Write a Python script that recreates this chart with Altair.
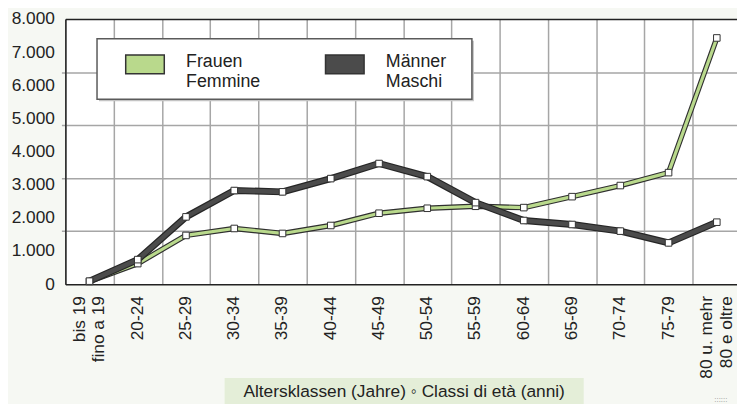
import altair as alt
import pandas as pd

# ---- data ----
age_classes = ["bis 19|fino a 19", "20-24", "25-29", "30-34", "35-39", "40-44", "45-49",
               "50-54", "55-59", "60-64", "65-69", "70-74", "75-79", "80 u. mehr|80 e oltre"]
frauen = [80, 620, 1470, 1680, 1530, 1770, 2140, 2290, 2350, 2310, 2640, 2975, 3365, 7430]
maenner = [90, 740, 2030, 2825, 2785, 3185, 3640, 3245, 2460, 1920, 1800, 1600, 1245, 1870]
series_names = ["Frauen|Femmine", "Männer|Maschi"]
y_label_values = [0, 1000, 2000, 3000, 4000, 5000, 6000, 7000, 8000]
grid_values = [1600, 3200, 4800, 6400]
title_text = "Altersklassen (Jahre) \u25e6 Classi di età (anni)"
dots_text = "::::::"

FONT = "Liberation Sans"
GREEN = "#b9d98c"
DARK = "#4b4b4b"
GRID = "#a6a6a6"
INK = "#222222"

rows = []
for i, a in enumerate(age_classes):
    rows.append({"age": a, "series": series_names[0], "value": frauen[i]})
    rows.append({"age": a, "series": series_names[1], "value": maenner[i]})
df = pd.DataFrame(rows)
one = pd.DataFrame({"k": [0]})

# tick-label lines (category key, line text, kind: single / first / second)
lab_rows = []
for a in age_classes:
    parts = a.split("|")
    if len(parts) == 1:
        lab_rows.append({"age": a, "line": parts[0], "kind": "single"})
    else:
        lab_rows.append({"age": a, "line": parts[0], "kind": "first"})
        lab_rows.append({"age": a, "line": parts[1], "kind": "second"})
labels_df = pd.DataFrame(lab_rows)

xs = alt.Scale(type="band", paddingInner=0, paddingOuter=0, range=[0, 683])
ys = alt.Scale(domain=[0, 8000], nice=False, zero=True)


def X(axis=None):
    return alt.X("age:N", sort=age_classes, scale=xs, bandPosition=0.5, axis=axis)


def Y(axis=None):
    return alt.Y("value:Q", scale=ys, axis=axis)


# grid carrier layer: right y-axis grid (1600 steps) + top border
grid_layer = alt.Chart(df).mark_line(opacity=0).encode(
    x=X(alt.Axis(orient="top", labels=False, ticks=False, grid=False, domain=True,
                 domainColor=INK, domainWidth=1.5, title=None)),
    y=Y(alt.Axis(orient="right", values=grid_values, labels=False, ticks=False,
                 domain=False, grid=True, gridColor=GRID, gridWidth=1.5, title=None)),
    detail="series:N",
)

x_main_axis = alt.Axis(orient="bottom", tickBand="extent", grid=True, gridColor=GRID,
                       gridWidth=1.5, ticks=False, domainColor=INK, domainWidth=1.5,
                       labels=False, title=None, zindex=0)
y_main_axis = alt.Axis(orient="left", values=y_label_values, grid=False, ticks=False,
                       domainColor=INK, domainWidth=1.5, labelFontSize=17.5, labelColor=INK,
                       labelPadding=11,
                       labelExpr="replace(format(datum.value, ','), ',', '.')",
                       title=None, zindex=1)

# legend box (decoration)
legend_shadow = alt.Chart(one).mark_rect(fill="#c4c4c4").encode(
    x=alt.value(34), x2=alt.value(413), y=alt.value(22), y2=alt.value(83))
legend_box = alt.Chart(one).mark_rect(fill="white", stroke="#5a5a5a", strokeWidth=1.5).encode(
    x=alt.value(32), x2=alt.value(411), y=alt.value(20), y2=alt.value(81))


def series_lines(name, outline_color, outline_w, inner_color, inner_w, axes=False):
    base = alt.Chart(df).transform_filter(alt.datum.series == name)
    outline = base.mark_line(color=outline_color, strokeWidth=outline_w, strokeJoin="round").encode(
        x=X(x_main_axis if axes else None), y=Y(y_main_axis if axes else None))
    inner = base.mark_line(color=inner_color, strokeWidth=inner_w, strokeJoin="round").encode(
        x=X(), y=Y())
    return outline, inner


f_out, f_in = series_lines(series_names[0], "#2f2f2f", 5.5, GREEN, 3.2, axes=True)
m_out, m_in = series_lines(series_names[1], "#262626", 7.0, DARK, 4.6)

markers = alt.Chart(df).mark_square(size=44, fill="white", stroke="#333333",
                                    strokeWidth=1, opacity=1).encode(x=X(), y=Y())


def tick_labels(kind, dy):
    return alt.Chart(labels_df).transform_filter(alt.datum.kind == kind).mark_text(
        angle=270, align="right", baseline="middle", fontSize=17.5, color=INK,
        font=FONT, dy=dy).encode(x=X(), y=alt.value(280), text="line:N")


lab_single = tick_labels("single", 0)
lab_first = tick_labels("first", -10)
lab_second = tick_labels("second", 10)

legend_layer = alt.Chart(df).transform_filter("false").mark_square(
    stroke="#333333", strokeWidth=1.5, opacity=1).encode(
    x=X(), y=Y(),
    fill=alt.Fill("series:N", scale=alt.Scale(domain=series_names, range=[GREEN, DARK]),
                  legend=alt.Legend(orient="none", legendX=60, legendY=28,
                                    direction="horizontal", title=None,
                                    symbolType="M-1,-0.641H1V0.333H-1Z", symbolSize=1521,
                                    symbolStrokeColor="#333333", symbolStrokeWidth=1.5,
                                    symbolOpacity=1, labelFontSize=18, labelColor=INK,
                                    labelOffset=21, labelBaseline="alphabetic",
                                    columnPadding=62, padding=0, labelLimit=300,
                                    labelExpr="split(datum.label, '|')")),
)

title_box = alt.Chart(one).mark_rect(fill="#e4eed8").encode(
    x=alt.value(161), x2=alt.value(524), y=alt.value(363), y2=alt.value(400))
title_txt = alt.Chart(one).mark_text(align="center", baseline="alphabetic", fontSize=17.5,
                                     color=INK, font=FONT).encode(
    x=alt.value(342.5), y=alt.value(382.3), text=alt.value(title_text))
dots = alt.Chart(one).mark_text(align="left", baseline="alphabetic", fontSize=8,
                                color="#8a8a8a", font=FONT).encode(
    x=alt.value(656), y=alt.value(387), text=alt.value(dots_text))

chart = alt.layer(
    grid_layer, legend_shadow, legend_box, f_out, f_in, m_out, m_in, markers,
    lab_single, lab_first, lab_second,
    legend_layer, title_box, title_txt, dots,
).resolve_axis(x="independent", y="independent").properties(
    width=679, height=268,
    autosize=alt.AutoSizeParams(type="none"),
    padding={"left": 58, "top": 9, "right": 0, "bottom": 119},
    background="#f6f8f3",
).configure_view(stroke=None, fill="white").configure_axis(
    labelFont=FONT).configure_legend(labelFont=FONT)

chart.save("out.html", embed_options={"renderer": "svg", "actions": False})
